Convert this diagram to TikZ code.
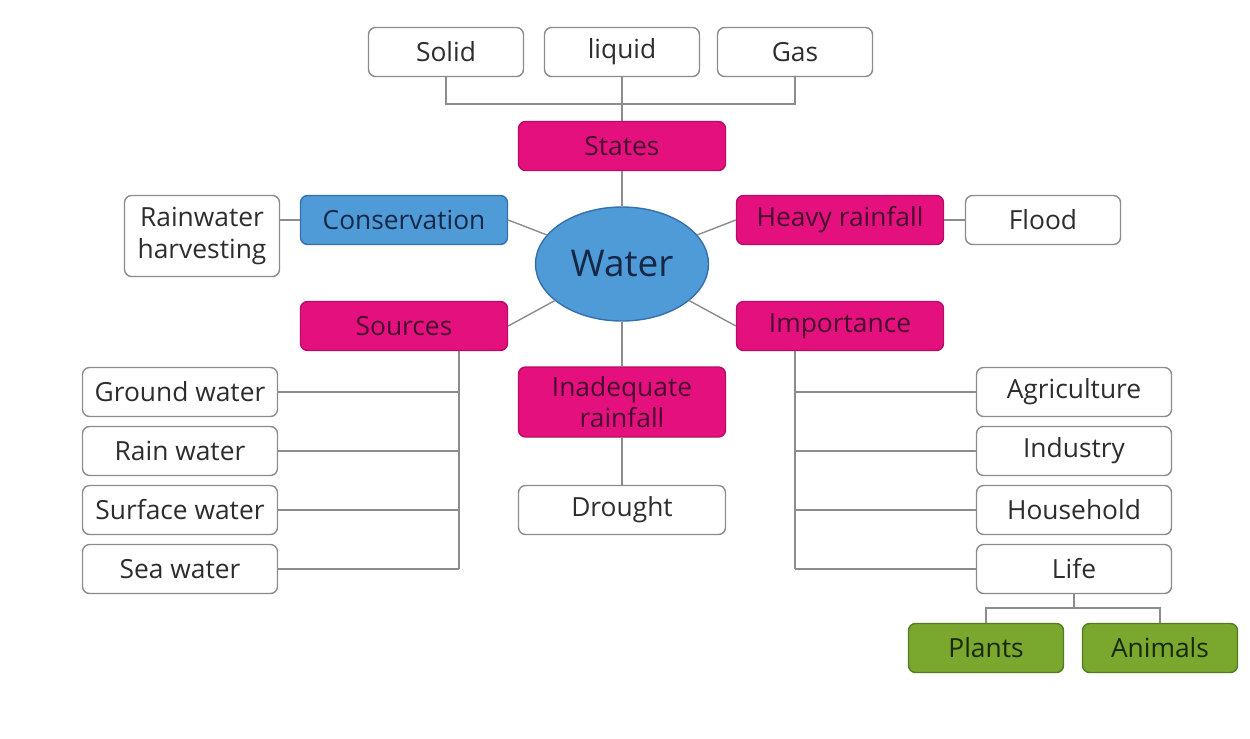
\documentclass[tikz,border=0pt]{standalone}
\usepackage{fontspec}
\setmainfont{Open Sans}
\usepackage{xcolor}
\usepackage{tikz}
\usetikzlibrary{positioning, shapes.geometric}

\definecolor{linegray}{RGB}{140,140,140}
\definecolor{textgray}{RGB}{45,45,45}
\definecolor{magfill}{RGB}{228,16,125}
\definecolor{magdraw}{RGB}{185,10,100}
\definecolor{magtext}{RGB}{70,12,45}
\definecolor{bluefill}{RGB}{78,155,216}
\definecolor{bluedraw}{RGB}{52,112,172}
\definecolor{bluetext}{RGB}{22,40,70}
\definecolor{grnfill}{RGB}{122,168,46}
\definecolor{grndraw}{RGB}{82,122,30}
\definecolor{grntext}{RGB}{25,40,12}

\begin{document}
\begin{tikzpicture}[
      x=0.02cm, y=-0.02cm,
      font=\fontsize{15}{18}\selectfont,
      leaf/.style={draw=linegray, fill=white, text=textgray, rounded corners=4pt, line width=0.8pt,
        align=center, inner sep=0pt, minimum width=3.1cm, minimum height=0.98cm},
      topic/.style={leaf, draw=magdraw, fill=magfill, text=magtext, minimum width=4.14cm},
      keep/.style={leaf, draw=bluedraw, fill=bluefill, text=bluetext, minimum width=4.14cm},
      alive/.style={leaf, draw=grndraw, fill=grnfill, text=grntext},
      link/.style={draw=linegray, line width=0.8pt},
    ]
    \useasboundingbox (0,0) rectangle (1250,738);
    % centre
    \node[ellipse, draw=bluedraw, fill=bluefill, text=bluetext, line width=0.8pt,
      minimum width=3.46cm, minimum height=2.28cm, font=\fontsize{21}{24}\selectfont] (water) at (622,264) {Water};
    % states
    \node[leaf] (solid) at (446,52) {Solid};
    \node[leaf] (liquid) at (622,52) {liquid};
    \node[leaf] (gas) at (795,52) {Gas};
    \node[topic] (states) at (622,146) {States};
    % left side
    \node[keep] (cons) at (404,220) {Conservation};
    \node[leaf, minimum height=1.62cm] (harvest) at (202,236) {Rainwater\\harvesting};
    \node[topic] (src) at (404,326) {Sources};
    \node[leaf, minimum width=3.9cm] (ground) at (180,392) {Ground water};
    \node[leaf, minimum width=3.9cm] (rainw) at (180,451) {Rain water};
    \node[leaf, minimum width=3.9cm] (surface) at (180,510) {Surface water};
    \node[leaf, minimum width=3.9cm] (sea) at (180,569) {Sea water};
    % right side
    \node[topic] (heavy) at (840,220) {Heavy rainfall};
    \node[leaf] (flood) at (1043,220) {Flood};
    \node[topic] (imp) at (840,326) {Importance};
    \node[leaf, minimum width=3.9cm] (agri) at (1074,392) {Agriculture};
    \node[leaf, minimum width=3.9cm] (industry) at (1074,451) {Industry};
    \node[leaf, minimum width=3.9cm] (house) at (1074,510) {Household};
    \node[leaf, minimum width=3.9cm] (life) at (1074,569) {Life};
    \node[alive] (plants) at (986,648) {Plants};
    \node[alive] (animals) at (1160,648) {Animals};
    % bottom
    \node[topic, minimum height=1.4cm] (inad) at (622,402) {Inadequate\\rainfall};
    \node[leaf, minimum width=4.14cm] (drought) at (622,510) {Drought};

    \coordinate (statesj) at (622,104);
    \coordinate (srcbus) at (459,569);
    \coordinate (impbus) at (795,569);
    \coordinate (lifej) at (1074,608);

    \draw[link] (solid.south) |- (statesj) -| (gas.south);
    \draw[link] (liquid.south) -- (states.north);
    \draw[link] (states.south) -- (water);
    \draw[link] (harvest.east |- cons.west) -- (cons.west);
    \draw[link] (cons.east) -- (water);
    \draw[link] (heavy.west) -- (water);
    \draw[link] (heavy.east) -- (flood.west);
    \draw[link] (src.east) -- (water);
    \draw[link] (imp.west) -- (water);
    \draw[link] (water) -- (inad.north);
    \draw[link] (inad.south) -- (drought.north);
    \draw[link] (src.south -| srcbus) -- (srcbus);
    \foreach \n in {ground, rainw, surface, sea}
      \draw[link] (\n.east) -- (\n.east -| srcbus);
    \draw[link] (imp.south -| impbus) -- (impbus);
    \foreach \n in {agri, industry, house, life}
      \draw[link] (\n.west) -- (\n.west -| impbus);
    \draw[link] (life.south) -- (lifej);
    \draw[link] (plants.north) |- (lifej) -| (animals.north);
  \end{tikzpicture}
\end{document}
